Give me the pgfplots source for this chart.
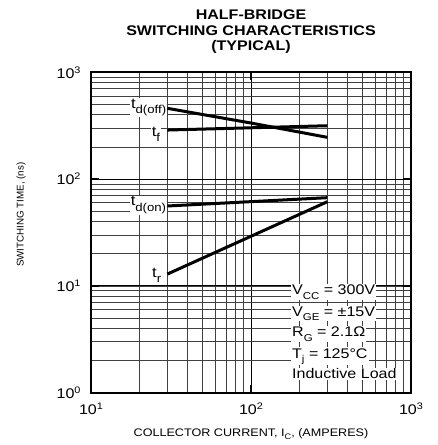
\documentclass[border=0pt]{standalone}
\usepackage{fontspec}
\setmainfont{Liberation Sans}[FakeStretch=1.15]
\newfontfamily\ylabfont{Liberation Sans}
\usepackage{pgfplots}
\pgfplotsset{compat=1.18}

% sub/superscripts sized by hand
\newcommand\lsub[1]{\raisebox{-5.5bp}{\fontsize{11.5}{12}\selectfont #1}}
\newcommand\csub[1]{\raisebox{-4.2bp}{\fontsize{10}{11}\selectfont #1}}
\newcommand\xsub[1]{\raisebox{-3bp}{\fontsize{8}{9}\selectfont #1}}
\newcommand\tsup[1]{\raisebox{5bp}{\fontsize{9.5}{10}\selectfont #1}}

\begin{document}
\begin{tikzpicture}
% frame of the whole picture (438 x 445)
\path (-91bp,-52.3bp) rectangle (347bp,392.7bp);
\begin{axis}[
    name=ax, set layers,
    at={(0,0)}, anchor=south west,
    width=320bp, height=320.4bp, scale only axis,
    xmode=log, ymode=log,
    xmin=10, xmax=1000, ymin=1, ymax=1000,
    xtick={10,100,1000},
    xticklabels={10\tsup{1},10\tsup{2},10\tsup{3}},
    ytick={1,10,100,1000},
    yticklabels={10\tsup{0},10\tsup{1},10\tsup{2},10\tsup{3}},
    grid=both,
    major grid style={black, line width=0.9bp},
    minor grid style={black!75, line width=0.7bp},
    major tick length=8bp, minor tick length=0pt,
    major tick style={black, line width=2bp},
    axis line style={line width=2bp},
    /pgf/number format/assume math mode=true,
    ticklabel style={font=\fontsize{14}{16}\selectfont},
    xticklabel style={yshift=-7bp},
    yticklabel style={xshift=-7bp},
    xlabel={COLLECTOR CURRENT, I\xsub{C}, (AMPERES)},
    xlabel style={at={(rel axis cs:0.5,-0.129)}, anchor=center,
        font=\fontsize{11}{13}\selectfont},
]
% t_d(off)
\addplot[black, line width=3bp] coordinates {(30,460) (100,335) (300,246)};
% t_f
\addplot[black, line width=3bp] coordinates {(30,288) (300,316)};
% t_d(on)
\addplot[black, line width=3bp] coordinates {(30,56) (300,67)};
% t_r
\addplot[black, line width=3bp] coordinates {(30,12.9) (300,61.4)};

\begin{scope}[every node/.style={fill=white, inner sep=1bp, font=\fontsize{14.5}{16}\selectfont}]
\node[anchor=base east] at (axis cs:30,460) {t\lsub{d(off)}};
\node[anchor=base east, xshift=-6bp, yshift=-6bp] at (axis cs:30,288) {t\lsub{f}};
\node[anchor=base east] at (axis cs:30,56) {t\lsub{d(on)}};
\node[anchor=base east, xshift=-5bp, yshift=-3bp] at (axis cs:30,12.9) {t\lsub{r}};
\end{scope}

\begin{scope}[every node/.style={fill=white, inner sep=1bp, anchor=base west, font=\fontsize{14}{16}\selectfont}]
\node at (rel axis cs:0.625,0.305) {V\csub{CC} = 300V};
\node at (rel axis cs:0.625,0.239) {V\csub{GE} = ±15V};
\node at (rel axis cs:0.625,0.174) {R\csub{G} = 2.1Ω};
\node at (rel axis cs:0.625,0.108) {T\csub{j} = 125°C};
\node at (rel axis cs:0.625,0.043) {Inductive Load};
\end{scope}
\end{axis}

\node[rotate=90, font=\ylabfont\fontsize{9.8}{12}\selectfont]
    at ([xshift=-70bp, yshift=178bp]ax.south west) {SWITCHING TIME, (ns)};

\node[align=center, font=\bfseries\fontsize{14}{15.3}\selectfont, yshift=40.5bp]
    at (ax.north) {HALF-BRIDGE\\SWITCHING CHARACTERISTICS\\(TYPICAL)};
\end{tikzpicture}
\end{document}
